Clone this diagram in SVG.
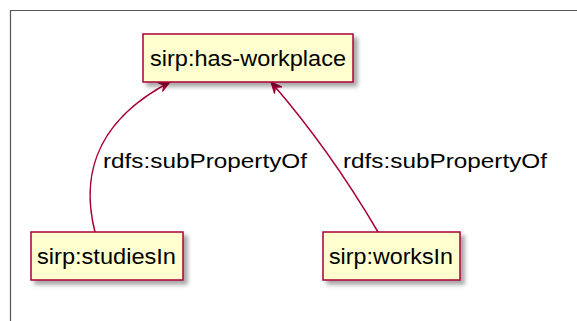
<svg xmlns="http://www.w3.org/2000/svg" width="577" height="321" viewBox="0 0 577 321">
  <style>
    .box { fill: #FEFECE; stroke: #A80036; stroke-width: 1.5; }
    .ntext { font-family: "Liberation Sans", Arial, sans-serif; font-size: 22px; fill: #000000; }
    .ltext { font-family: "Liberation Sans", Arial, sans-serif; font-size: 21px; fill: #000000; }
    .edge { fill: none; stroke: #A80036; stroke-width: 1.5; }
    .frame { fill: none; stroke: #555555; stroke-width: 1.2; }
  </style>
  <defs>
    <filter id="sh" x="-10%" y="-20%" width="130%" height="160%">
      <feDropShadow dx="4" dy="4" stdDeviation="2" flood-color="#000000" flood-opacity="0.35"/>
    </filter>
    <marker id="ah" viewBox="-12 -6 14 12" refX="0" refY="0" markerWidth="14" markerHeight="12" markerUnits="userSpaceOnUse" orient="auto">
      <path d="M0,0 L-11,-5 L-7,0 L-11,5 Z" fill="#A80036" stroke="#A80036" stroke-width="1"/>
    </marker>
  </defs>
  <rect width="577" height="321" fill="#FFFFFF"/>
  <path class="frame" d="M10.5,321 L10.5,10.5 L577,10.5"/>

  <g id="edges">
    <path class="edge" d="M95,232 C83,185 88,125 170,82" marker-end="url(#ah)"/>
    <path class="edge" d="M378,232 Q330,150 271,82" marker-end="url(#ah)"/>
    <text class="ltext" x="103" y="168" textLength="204" lengthAdjust="spacingAndGlyphs">rdfs:subPropertyOf</text>
    <text class="ltext" x="343" y="168" textLength="204" lengthAdjust="spacingAndGlyphs">rdfs:subPropertyOf</text>
  </g>

  <g id="has-workplace">
    <rect class="box" x="143" y="34" width="210" height="48" filter="url(#sh)"/>
    <text class="ntext" x="150" y="66" textLength="196" lengthAdjust="spacingAndGlyphs">sirp:has-workplace</text>
  </g>

  <g id="studiesIn">
    <rect class="box" x="31" y="232" width="152" height="48" filter="url(#sh)"/>
    <text class="ntext" x="37" y="264" textLength="139" lengthAdjust="spacingAndGlyphs">sirp:studiesIn</text>
  </g>

  <g id="worksIn">
    <rect class="box" x="323" y="232" width="137" height="48" filter="url(#sh)"/>
    <text class="ntext" x="329" y="264" textLength="124" lengthAdjust="spacingAndGlyphs">sirp:worksIn</text>
  </g>
</svg>
